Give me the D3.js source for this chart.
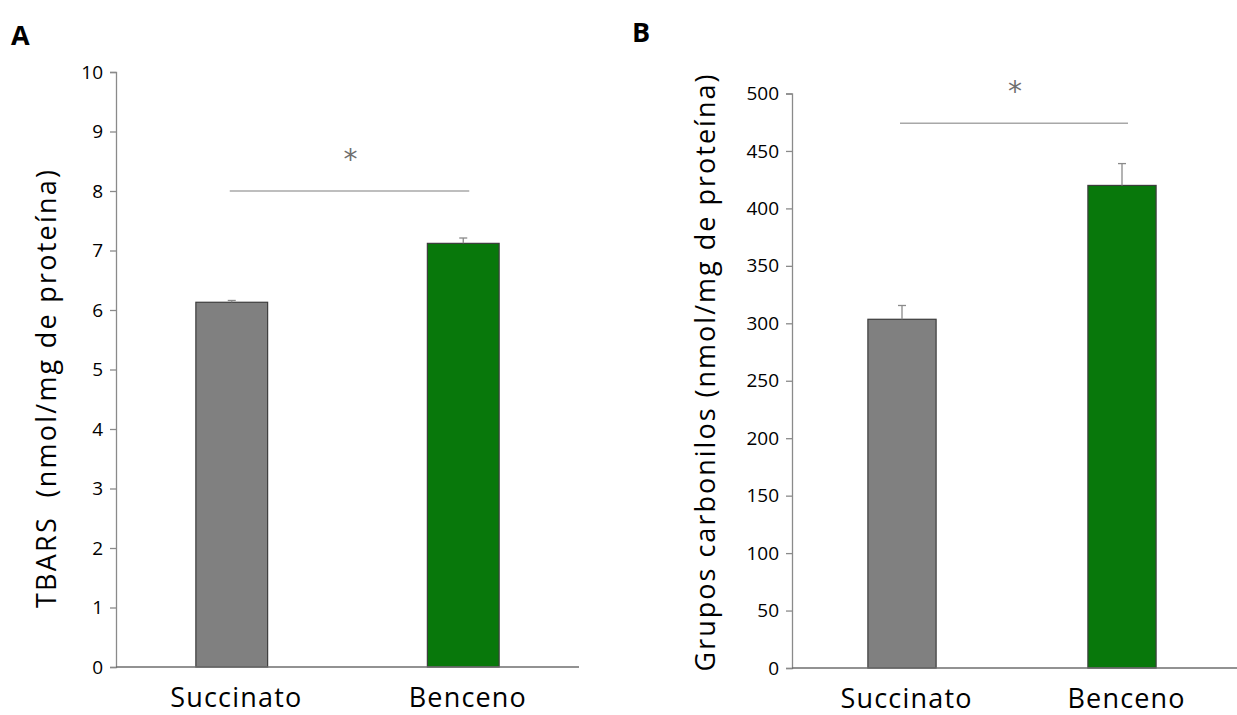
<!DOCTYPE html>
<html>
<head>
<meta charset="utf-8">
<script src="https://cdn.jsdelivr.net/npm/d3@7"></script>
<style>
  html, body { margin: 0; padding: 0; background: #fff; }
  svg { display: block; font-family: "Open Sans", sans-serif; }
</style>
</head>
<body>
<svg id="chart" width="1237" height="715"></svg>
<script>
// Groups compared in both panels
const categories = ["Succinato", "Benceno"];

// Panel A: lipid peroxidation (TBARS)
const tbarsMeans = [6.13, 7.12];
const tbarsErrors = [0.03, 0.09];
const tbarsTicks = [0, 1, 2, 3, 4, 5, 6, 7, 8, 9, 10];
const tbarsSignificance = 8.0;

// Panel B: protein carbonyls
const carbonylMeans = [303.5, 420];
const carbonylErrors = [12, 19];
const carbonylTicks = [0, 50, 100, 150, 200, 250, 300, 350, 400, 450, 500];
const carbonylSignificance = 474;

const barColors = ["#808080", "#08780b"];
const labelWidths = [131, 117];

const svg = d3.select("#chart");

function drawPanel(cfg) {
  const g = svg.append("g");

  const x = d3.scaleBand()
    .domain(categories)
    .range([cfg.left, cfg.right])
    .paddingInner(0.69)
    .paddingOuter(0.345);

  const y = d3.scaleLinear()
    .domain([0, d3.max(cfg.ticks)])
    .range([cfg.bottom, cfg.top]);

  // Y axis
  const yAxis = g.append("g")
    .attr("transform", `translate(${cfg.left},0)`)
    .call(d3.axisLeft(y).tickValues(cfg.ticks).tickSize(6).tickPadding(7).tickFormat(d3.format("d")));
  yAxis.select(".domain").attr("stroke", "#8a8a8a").attr("stroke-width", 1.3);
  yAxis.selectAll(".tick line").attr("stroke", "#8a8a8a").attr("stroke-width", 1.3);
  yAxis.selectAll(".tick text")
    .attr("fill", "#000")
    .style("font-size", "19px")
    .style("font-family", "'Open Sans', sans-serif");

  // Bars
  g.selectAll("rect.bar")
    .data(categories)
    .join("rect")
    .attr("class", "bar")
    .attr("x", d => x(d))
    .attr("width", x.bandwidth())
    .attr("y", (d, i) => y(cfg.means[i]))
    .attr("height", (d, i) => y(0) - y(cfg.means[i]))
    .attr("fill", (d, i) => barColors[i])
    .attr("stroke", "#3c3c3c")
    .attr("stroke-width", 1.2);

  // Upper error bars
  const eb = g.selectAll("g.err")
    .data(categories)
    .join("g")
    .attr("class", "err");
  eb.append("line")
    .attr("x1", d => x(d) + x.bandwidth() / 2)
    .attr("x2", d => x(d) + x.bandwidth() / 2)
    .attr("y1", (d, i) => y(cfg.means[i]))
    .attr("y2", (d, i) => y(cfg.means[i] + cfg.errors[i]))
    .attr("stroke", "#8a8a8a")
    .attr("stroke-width", 1.3);
  eb.append("line")
    .attr("x1", d => x(d) + x.bandwidth() / 2 - 4)
    .attr("x2", d => x(d) + x.bandwidth() / 2 + 4)
    .attr("y1", (d, i) => y(cfg.means[i] + cfg.errors[i]))
    .attr("y2", (d, i) => y(cfg.means[i] + cfg.errors[i]))
    .attr("stroke", "#8a8a8a")
    .attr("stroke-width", 1.3);

  // X axis baseline
  g.append("line")
    .attr("x1", cfg.left)
    .attr("x2", cfg.axisEnd)
    .attr("y1", y(0))
    .attr("y2", y(0))
    .attr("stroke", "#6e6e6e")
    .attr("stroke-width", 1.5);

  // Category labels
  g.selectAll("text.cat")
    .data(categories)
    .join("text")
    .attr("class", "cat")
    .attr("x", d => x(d) + x.bandwidth() / 2 + 4)
    .attr("y", y(0) + 40)
    .attr("text-anchor", "middle")
    .style("font-size", "27px")
    .attr("textLength", (d, i) => labelWidths[i])
    .attr("fill", "#000")
    .text(d => d);

  // Significance bracket
  const c0 = x(categories[0]) + x.bandwidth() / 2;
  const c1 = x(categories[1]) + x.bandwidth() / 2;
  g.append("line")
    .attr("x1", c0 - 2)
    .attr("x2", c1 + 6)
    .attr("y1", y(cfg.significance))
    .attr("y2", y(cfg.significance))
    .attr("stroke", "#a8a8a8")
    .attr("stroke-width", 1.5);
  g.append("text")
    .attr("x", (c0 + c1) / 2 + 3)
    .attr("y", y(cfg.significance) - 22)
    .attr("text-anchor", "middle")
    .attr("fill", "#707070")
    .style("font-size", "28px")
    .style("font-family", "'DejaVu Sans', sans-serif")
    .text("*");

  // Y axis title
  g.append("text")
    .attr("transform", `translate(${cfg.titleX},${cfg.titleY}) rotate(-90)`)
    .attr("text-anchor", "middle")
    .style("font-size", "27px")
    .attr("textLength", cfg.titleLength)
    .attr("fill", "#000")
    .attr("xml:space", "preserve")
    .text(cfg.title);

  // Panel letter
  g.append("text")
    .attr("x", cfg.letterX)
    .attr("y", cfg.letterY)
    .style("font-size", "27px")
    .style("font-weight", "bold")
    .attr("fill", "#000")
    .text(cfg.letter);
}

drawPanel({
  means: tbarsMeans, errors: tbarsErrors, ticks: tbarsTicks, significance: tbarsSignificance,
  left: 116, right: 579, axisEnd: 579, top: 72, bottom: 667,
  title: "TBARS  (nmol/mg de proteína)", titleX: 56, titleY: 389, titleLength: 438,
  letter: "A", letterX: 11, letterY: 45
});

drawPanel({
  means: carbonylMeans, errors: carbonylErrors, ticks: carbonylTicks, significance: carbonylSignificance,
  left: 792, right: 1232, axisEnd: 1237, top: 93.5, bottom: 668,
  title: "Grupos carbonilos (nmol/mg de proteína)", titleX: 715, titleY: 373, titleLength: 597,
  letter: "B", letterX: 632, letterY: 42
});
</script>
</body>
</html>
